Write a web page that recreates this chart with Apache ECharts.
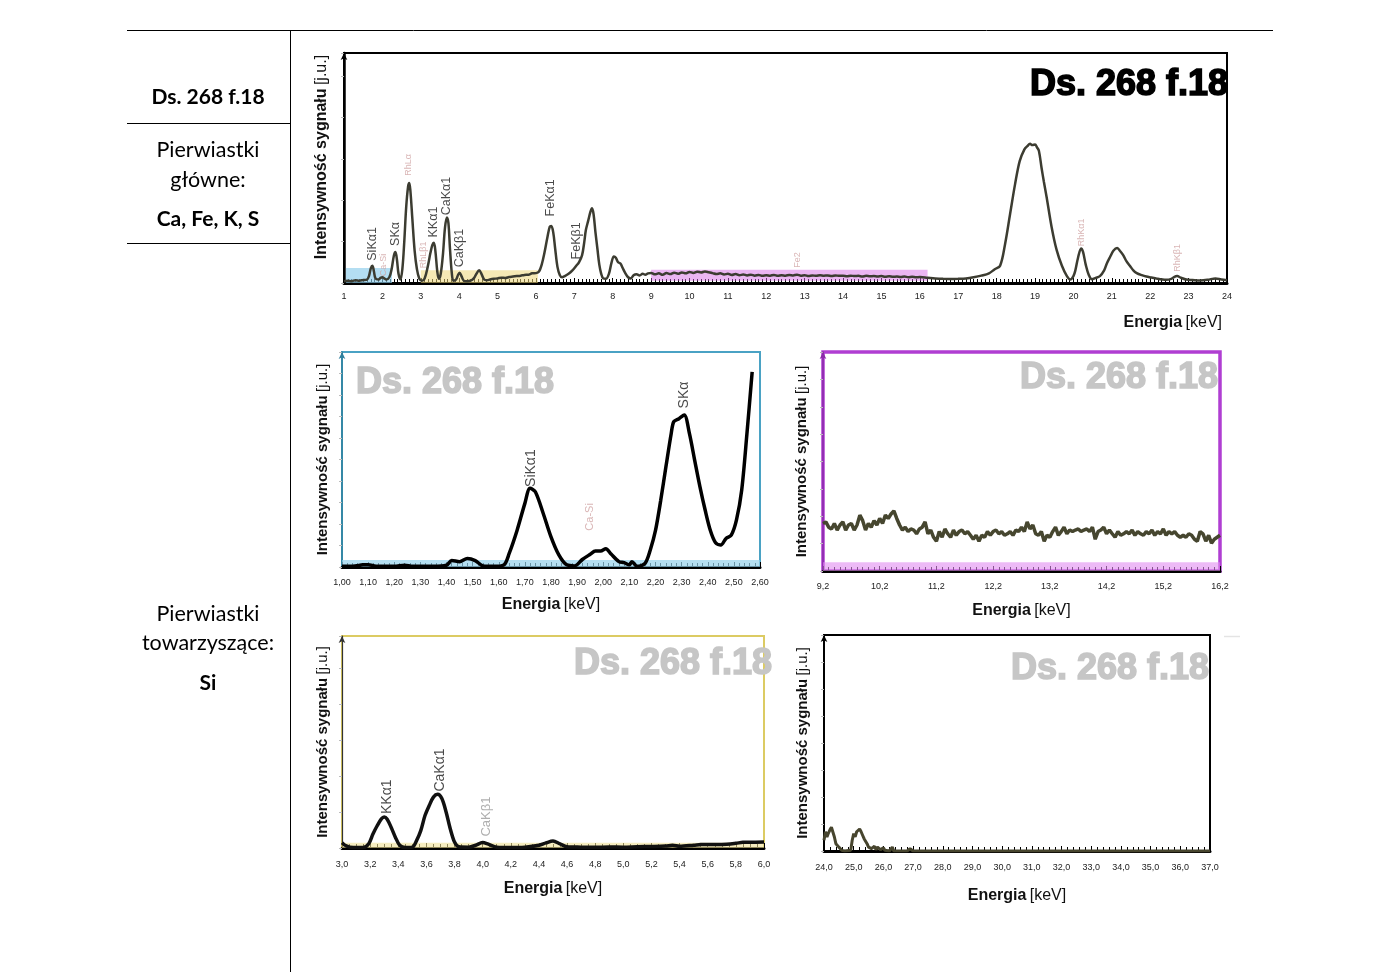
<!DOCTYPE html>
<html><head><meta charset="utf-8">
<script src="https://cdn.jsdelivr.net/npm/echarts@6/dist/echarts.min.js"></script>
<style>html,body{margin:0;padding:0;background:#fff}#c{width:1400px;height:972px}</style>
</head><body><div id="c"></div>
<script>
// ---------- DATA ----------
const sampleName = 'Ds. 268 f.18';

// Overview spectrum 1–24 keV
const topEnergy = [1.0,1.1,1.2,1.3,1.4,1.5,1.6,1.65,1.7,1.74,1.78,1.82,1.9,1.95,2.0,2.05,2.1,2.18,2.24,2.3,2.34,2.38,2.42,2.47,2.52,2.57,2.62,2.67,2.70,2.73,2.78,2.84,2.9,2.96,3.03,3.1,3.18,3.25,3.3,3.34,3.38,3.43,3.47,3.52,3.58,3.63,3.68,3.72,3.76,3.81,3.85,3.92,3.97,4.01,4.06,4.12,4.2,4.3,4.38,4.45,4.52,4.58,4.65,4.72,4.8,4.9,5.0,5.1,5.2,5.3,5.4,5.5,5.6,5.7,5.8,5.9,6.0,6.08,6.15,6.22,6.3,6.36,6.4,6.45,6.5,6.56,6.62,6.68,6.75,6.85,6.95,7.05,7.12,7.2,7.26,7.3,7.36,7.42,7.46,7.5,7.55,7.6,7.65,7.7,7.75,7.82,7.9,7.97,8.03,8.08,8.14,8.2,8.26,8.32,8.4,8.47,8.55,8.62,8.7,8.78,8.85,8.92,9.0,9.1,9.2,9.3,9.4,9.5,9.6,9.7,9.8,9.9,10.0,10.1,10.2,10.3,10.4,10.5,10.6,10.7,10.8,10.9,11.0,11.1,11.2,11.3,11.4,11.5,11.6,11.7,11.8,11.9,12.0,12.1,12.2,12.3,12.4,12.5,12.6,12.7,12.8,12.9,13.0,13.1,13.2,13.3,13.4,13.5,13.6,13.7,13.8,13.9,14.0,14.1,14.2,14.3,14.4,14.5,14.6,14.7,14.8,14.9,15.0,15.1,15.2,15.3,15.4,15.5,15.6,15.7,15.8,15.9,16.0,16.2,16.4,16.6,16.8,17.0,17.2,17.4,17.6,17.8,17.95,18.09,18.22,18.35,18.48,18.6,18.72,18.8,18.87,18.93,19.0,19.05,19.1,19.17,19.23,19.3,19.43,19.56,19.7,19.83,19.92,20.0,20.05,20.12,20.2,20.25,20.32,20.4,20.48,20.58,20.69,20.8,20.87,20.96,21.04,21.14,21.22,21.3,21.38,21.47,21.56,21.65,21.78,21.9,22.03,22.16,22.3,22.42,22.55,22.62,22.7,22.8,22.94,23.1,23.3,23.5,23.7,23.85,24.0];
const topIntensity = [0.8,1.0,0.8,1.2,1.0,1.3,1.5,3,6.5,7.5,5,2,1.5,2.2,2.5,2,1.5,2.5,6,12,13.5,10,4,1.5,6,18,33,42,43.5,40,28,14,6,2,1,2,7,13,16.5,17.5,14,5,1.8,4,13,24,28.5,26,15,4,1,1.5,3.5,4.5,3,1,0.8,1,2,4,5.5,4,1.5,1.2,1.5,1.8,2,2.3,2.2,2.6,2.8,3,3.2,3.5,3.6,4.2,4.3,5,8,13,20,24.5,24.8,22,15,7,3.5,2.5,3,4,5.5,7.5,9,12,18,23,27,31,32.5,30,22,15,8,4,2,1.8,4,9,11.5,11,9,8.5,6.5,4.5,2.5,2,3.5,3.8,3.3,4,3.6,4.2,4.4,3.8,4.2,3.6,4.3,3.9,4.5,4,4.6,4.2,4.8,4.4,4.9,4.6,5,4.7,4.3,3.9,4.2,3.7,4,3.5,3.9,3.4,3.7,3.3,3.6,3.2,3.5,3.1,3.4,3.2,3.5,3.1,3.4,3.2,3.5,3.3,3.6,3.2,3.4,3,3.3,3.1,3.4,3.2,3.3,3,3.3,3.1,3.2,2.9,3.2,3,3.1,2.8,3.1,2.9,3,2.8,3,2.7,2.9,2.7,2.8,2.6,2.8,2.5,2.7,2.5,2.6,2.3,2.0,1.8,1.7,1.8,2.0,2.5,3.2,4.2,6,7.5,17,30,43,53,58,59.5,60.5,60,60.2,59,57.5,50,44,37.5,24.5,14.5,7.5,3,1.5,3,5.5,11,15,13.5,8,3.5,1.6,2.2,3,5.5,8.5,11.5,14,15.2,13.8,12,9.5,7.5,5.5,4.3,3.4,2.8,2.4,2,1.6,1.4,1.8,2.6,3,2.3,1.5,1.3,1.1,1.4,2,1.5,1.2];
const topLabelNames = ['SiKα1','Ca-Si','SKα','RhLα','RhLβ1','KKα1','CaKα1','CaKβ1','FeKα1','FeKβ1','Fe2','RhKα1','RhKβ1'];
const topLabelE     = [1.755,2.02,2.33,2.69,3.06,3.32,3.68,4.02,6.39,7.07,12.8,20.2,22.7];
const topLabelY     = [17,7.8,21.3,51.3,12.2,26.5,37.8,15.2,37,18.3,10,22,10.9];
const topLabelTone  = ['k','p','k','p','p','k','k','k','k','k','p','p','p'];

// Zoom 1.00–2.60 keV
const midLeftEnergy = [1.00,1.04,1.08,1.10,1.13,1.20,1.24,1.27,1.35,1.40,1.42,1.45,1.48,1.51,1.54,1.58,1.62,1.64,1.67,1.70,1.72,1.74,1.77,1.80,1.83,1.86,1.89,1.92,1.95,1.97,1.99,2.01,2.03,2.06,2.08,2.10,2.11,2.13,2.16,2.18,2.20,2.22,2.24,2.26,2.27,2.29,2.31,2.33,2.35,2.37,2.39,2.41,2.43,2.45,2.47,2.49,2.51,2.53,2.55,2.57];
const midLeftIntensity = [0.3,0.3,1.0,1.1,0.4,0.3,0.8,0.3,0.3,0.8,3,2.5,4,3,0.5,0.3,1,6.3,17,29.6,36.6,35,25,14,5.6,1,0.5,3.5,5.9,7.4,7.4,8.5,6,2.5,2,1,2.5,0.3,1.7,7.9,17,31,46.7,62,67.6,69,70.7,62,49.6,37.4,26.5,17,11.3,10.2,13.3,14.8,21.9,35.8,62,90.8];
const midLeftLabelNames = ['SiKα1','Ca-Si','SKα'];
const midLeftLabelE = [1.723,1.95,2.31];
const midLeftLabelY = [46,23.3,80];
const midLeftLabelTone = ['k','p','k'];

// Zoom 9.2–16.2 keV
const midRightEnergy = [9.2,9.25,9.3,9.35,9.4,9.45,9.5,9.55,9.6,9.65,9.7,9.75,9.8,9.85,9.9,9.95,10.0,10.05,10.1,10.15,10.2,10.25,10.3,10.35,10.4,10.45,10.5,10.55,10.6,10.65,10.7,10.75,10.8,10.85,10.9,10.95,11.0,11.05,11.1,11.15,11.2,11.25,11.3,11.35,11.4,11.45,11.5,11.55,11.6,11.65,11.7,11.75,11.8,11.85,11.9,11.95,12.0,12.05,12.1,12.15,12.2,12.25,12.3,12.35,12.4,12.45,12.5,12.55,12.6,12.65,12.7,12.75,12.8,12.85,12.9,12.95,13.0,13.05,13.1,13.15,13.2,13.25,13.3,13.35,13.4,13.45,13.5,13.55,13.6,13.65,13.7,13.75,13.8,13.85,13.9,13.95,14.0,14.05,14.1,14.15,14.2,14.25,14.3,14.35,14.4,14.45,14.5,14.55,14.6,14.65,14.7,14.75,14.8,14.85,14.9,14.95,15.0,15.05,15.1,15.15,15.2,15.25,15.3,15.35,15.4,15.45,15.5,15.55,15.6,15.65,15.7,15.75,15.8,15.85,15.9,15.95,16.0,16.05,16.1,16.15,16.2];
const midRightIntensity = [21.7,22.4,20,19.2,21.7,18.7,21,22.4,18.7,21,21.7,18.7,21,25.5,23,18.7,21.7,20,23,21,24,21.7,25.5,24,26,27.4,24,21,18.7,20,18,19.2,18.7,17,19.2,20,22.4,17,18.7,15.4,13.6,18,15.4,19.2,17,15.4,18.7,16.3,18,18.7,17,18,16.3,14.5,16.3,13.6,16.3,15.4,18,16.3,18,18.7,17,18,16.3,17,18,16.3,18.7,18,20,18,22.4,19.2,21,17,16.3,18,13.6,16.3,15.4,18,20,16.3,18,20,17,18.7,18,18.7,19.2,18,18.7,19.2,18,20,14.5,18,18.7,20,17,18.7,17,15.4,18,16.3,17,18,17,18.7,16.3,18,17,16.3,18,17,18.7,16.3,18,17,19.2,16.3,18,17,18,16.3,15.4,16.3,15.4,17,16.3,14.5,13.6,18,17,13.6,16.3,12.7,14.5,15.4,16.3];

// Zoom 3.0–6.0 keV
const botLeftEnergy = [3.00,3.03,3.08,3.15,3.19,3.22,3.25,3.28,3.30,3.32,3.35,3.38,3.41,3.45,3.50,3.53,3.56,3.59,3.62,3.65,3.68,3.71,3.74,3.77,3.80,3.83,3.90,3.95,4.00,4.04,4.10,4.20,4.30,4.40,4.45,4.50,4.55,4.60,4.70,4.80,4.90,5.00,5.10,5.20,5.30,5.35,5.40,5.50,5.55,5.60,5.70,5.80,5.85,5.90,6.00];
const botLeftIntensity = [2.5,1.0,0.2,0.2,2,6.6,10.5,13.7,14.6,13.7,9.7,5,1.3,0.2,0.4,3.5,8.2,15.3,20,24,25.3,23.3,17,9,2.8,0.6,0.4,1.3,2.6,1.8,0.4,0.2,0.4,1.3,2.4,3.3,1.9,0.6,0.4,0.3,0.5,0.4,0.6,0.7,0.9,1.3,0.8,1.3,1.6,1.7,1.7,2.2,2.7,2.7,2.8];
const botLeftLabelNames = ['KKα1','CaKα1','CaKβ1'];
const botLeftLabelE = [3.32,3.70,4.03];
const botLeftLabelY = [24.2,36.8,14.8];
const botLeftLabelTone = ['k','k','g'];

// Zoom 24–37 keV
const botRightEnergy = [24.0,24.05,24.1,24.15,24.2,24.25,24.3,24.35,24.4,24.5,24.6,24.7,24.9,24.95,25.0,25.05,25.1,25.15,25.2,25.25,25.3,25.35,25.4,25.45,25.5,25.55,25.6,25.7,25.75,25.8,25.85,25.9,26.0,26.05,26.1,26.2,26.3,26.35,26.5,26.8,26.9,27.0,30.0,37.0];
const botRightIntensity = [5,8.9,6.5,8.3,9.8,11,10.6,6.5,3.4,1.8,0.3,0,0.3,5,8.1,6.5,8.9,9.8,10.2,8.9,7.3,5.7,5,3.4,1.8,2.6,1.1,2.2,0.6,1.8,2.6,0.6,1.5,0.3,1.1,0,1.8,0,0,0,1.1,0,0,0];

// ---------- BUILD ----------
const FONT = 'Liberation Sans, Arial, sans-serif';
const zip = (a,b) => a.map((v,i)=>[v,b[i]]);
const toneColor = {k:'#1a1a1a', p:'#cfa3a3', g:'#9a9a9a'};
function labelData(names,E,Y,tone,bigSize,smallSize){
  return names.map((n,i)=>({value:[E[i],Y[i],n],
    label:{color:toneColor[tone[i]], fontSize: tone[i]==='k'?bigSize:smallSize}}));
}
function yNameCfg(size,pad){
  return {
    name:'{b|Intensywność sygnału} {n|[j.u.]}', nameLocation:'middle', nameRotate:90,
    nameTextStyle:{padding:pad,rich:{b:{fontFamily:FONT,fontWeight:'bold',fontSize:size,color:'#111'},n:{fontFamily:FONT,fontSize:size,color:'#111'}}}
  };
}
const xNameRich = {b:{fontFamily:FONT,fontWeight:'bold',fontSize:16,color:'#111'},n:{fontFamily:FONT,fontSize:16,color:'#111'}};

function xAxis(gi,min,max,interval,minor,fmt,margin,extra){
  return Object.assign({
    type:'value', gridIndex:gi, min:min, max:max, interval:interval,
    axisLine:{show:true,onZero:false,lineStyle:{color:'#000',width:3}},
    axisTick:{show:true,inside:true,length:5,lineStyle:{color:'#000',width:1}},
    minorTick:{show:true,splitNumber:minor,length:4,lineStyle:{color:'#000',width:1}},
    axisLabel:{fontSize:9,color:'#222',fontFamily:FONT,margin:margin,formatter:fmt,showMinLabel:true,showMaxLabel:true},
    splitLine:{show:false}
  },extra||{});
}
function yAxis(gi,interval,color,gap,w,size,pad){
  return Object.assign({
    type:'value', gridIndex:gi, min:0, max:100, interval:interval,
    axisLine:{show:true,onZero:false,symbol:['none','arrow'],symbolSize:[5,7],lineStyle:{color:color,width:w}},
    axisTick:{show:true,length:3,lineStyle:{color:'#bbb'}},
    axisLabel:{show:false}, splitLine:{show:false}, nameGap:gap
  },yNameCfg(size,pad));
}
function labelSeries(xi,data){
  return {type:'scatter',xAxisIndex:xi,yAxisIndex:xi,symbolSize:1,silent:true,z:5,
    itemStyle:{color:'rgba(0,0,0,0)'},
    label:{show:true,position:'inside',rotate:90,fontFamily:FONT,formatter:p=>p.data.value[2]},
    data:data};
}
function heavyText(x,y,align,fill,size){
  return {type:'text',z:10,style:{text:sampleName,x:x,y:y,textAlign:align,textVerticalAlign:'middle',
    font:'bold '+size+'px Liberation Sans, Arial, sans-serif',fill:fill,stroke:fill,lineWidth:1.6}};
}
const offR = 9.2;
const option = {
  animation:false,
  grid:[
    {left:344,top:53,width:883,height:230,show:true,borderColor:'#000',borderWidth:2},
    {left:342,top:352,width:418,height:215,show:true,borderColor:'#4aa2c4',borderWidth:2},
    {left:823,top:352,width:397,height:219,show:true,borderColor:'#b03ed2',borderWidth:3.5},
    {left:342,top:636,width:422,height:212,show:true,borderColor:'#dccb63',borderWidth:2},
    {left:824,top:635,width:386,height:216,show:true,borderColor:'#000',borderWidth:2}
  ],
  xAxis:[
    xAxis(0,1,24,1,10,v=>String(Math.round(v)),9,{name:'{b|Energia} {n|[keV]}',nameLocation:'end',nameGap:-5,
      nameTextStyle:{align:'right',verticalAlign:'top',padding:[32,0,0,0],rich:xNameRich}}),
    xAxis(1,1,2.6,0.1,5,v=>v.toFixed(2).replace('.',','),11,{name:'{b|Energia} {n|[keV]}',nameLocation:'middle',nameGap:30,nameTextStyle:{rich:xNameRich}}),
    xAxis(2,0,7,1,10,v=>(v+offR).toFixed(1).replace('.',','),11,{name:'{b|Energia} {n|[keV]}',nameLocation:'middle',nameGap:32,nameTextStyle:{rich:xNameRich}}),
    xAxis(3,3,6,0.2,4,v=>v.toFixed(1).replace('.',','),12,{name:'{b|Energia} {n|[keV]}',nameLocation:'middle',nameGap:33,nameTextStyle:{rich:xNameRich}}),
    xAxis(4,24,37,1,5,v=>v.toFixed(1).replace('.',','),12,{name:'{b|Energia} {n|[keV]}',nameLocation:'middle',nameGap:37,nameTextStyle:{rich:xNameRich}})
  ],
  yAxis:[
    yAxis(0,18,'#000',14,2.5,16,[0,0,0,22]),
    yAxis(1,10,'#2f7f9c',12,1.5,15,0),
    yAxis(2,12.5,'#8a2aa8',14,1.5,15,0),
    yAxis(3,17,'#333',12,1.2,15,0),
    yAxis(4,12.5,'#000',14,2,15,0)
  ],
  series:[
    {type:'line',xAxisIndex:0,yAxisIndex:0,data:zip(topEnergy,topIntensity),showSymbol:false,smooth:0.35,z:3,
      lineStyle:{color:'#3c3c31',width:2.5},
      markArea:{silent:true,data:[
        [{xAxis:1.05,yAxis:0,itemStyle:{color:'rgba(140,205,235,0.65)'}},{xAxis:2.25,yAxis:6.5}],
        [{xAxis:3.0,yAxis:0,itemStyle:{color:'rgba(238,215,120,0.55)'}},{xAxis:6.05,yAxis:5.5}],
        [{xAxis:9.0,yAxis:1,itemStyle:{color:'rgba(215,110,230,0.5)'}},{xAxis:16.2,yAxis:5.8}]
      ]}},
    labelSeries(0,labelData(topLabelNames,topLabelE,topLabelY,topLabelTone,12.5,9)),
    {type:'line',xAxisIndex:1,yAxisIndex:1,data:zip(midLeftEnergy,midLeftIntensity),showSymbol:false,smooth:0.3,z:3,
      lineStyle:{color:'#000',width:3.5},
      markArea:{silent:true,data:[[{xAxis:1,yAxis:0,itemStyle:{color:'rgba(150,210,235,0.7)'}},{xAxis:2.6,yAxis:3.3}]]}},
    labelSeries(1,labelData(midLeftLabelNames,midLeftLabelE,midLeftLabelY,midLeftLabelTone,14,11)),
    {type:'line',xAxisIndex:2,yAxisIndex:2,data:midRightEnergy.map((e,i)=>[e-offR,midRightIntensity[i]]),showSymbol:false,z:3,
      lineStyle:{color:'#46462f',width:3.5},
      markArea:{silent:true,data:[[{xAxis:0,yAxis:0,itemStyle:{color:'rgba(225,140,240,0.6)'}},{xAxis:7,yAxis:4}]]}},
    {type:'line',xAxisIndex:3,yAxisIndex:3,data:zip(botLeftEnergy,botLeftIntensity),showSymbol:false,smooth:0.3,z:3,
      lineStyle:{color:'#111',width:3.5},
      markArea:{silent:true,data:[[{xAxis:3,yAxis:0,itemStyle:{color:'rgba(240,225,150,0.6)'}},{xAxis:6,yAxis:2.5}]]}},
    labelSeries(3,labelData(botLeftLabelNames,botLeftLabelE,botLeftLabelY,botLeftLabelTone,14,13)),
    {type:'line',xAxisIndex:4,yAxisIndex:4,data:zip(botRightEnergy,botRightIntensity),showSymbol:false,z:3,
      lineStyle:{color:'#47452e',width:3}}
  ],
  graphic:[
    // table
    {type:'line',shape:{x1:127,y1:30.5,x2:1273,y2:30.5},style:{stroke:'#000',lineWidth:1}},
    {type:'line',shape:{x1:290.5,y1:30,x2:290.5,y2:972},style:{stroke:'#000',lineWidth:1}},
    {type:'line',shape:{x1:127,y1:123.5,x2:290,y2:123.5},style:{stroke:'#000',lineWidth:1}},
    {type:'line',shape:{x1:127,y1:243.5,x2:290,y2:243.5},style:{stroke:'#000',lineWidth:1}},
    {type:'text',style:{text:sampleName,x:208,y:97,textAlign:'center',textVerticalAlign:'middle',font:'bold 21px Lato, sans-serif',fill:'#000'}},
    {type:'text',style:{text:'Pierwiastki',x:208,y:150,textAlign:'center',textVerticalAlign:'middle',font:'21.5px Lato, sans-serif',fill:'#000'}},
    {type:'text',style:{text:'główne:',x:208,y:180,textAlign:'center',textVerticalAlign:'middle',font:'21.5px Lato, sans-serif',fill:'#000'}},
    {type:'text',style:{text:'Ca, Fe, K, S',x:208,y:219,textAlign:'center',textVerticalAlign:'middle',font:'bold 21px Lato, sans-serif',fill:'#000'}},
    {type:'text',style:{text:'Pierwiastki',x:208,y:614,textAlign:'center',textVerticalAlign:'middle',font:'21.5px Lato, sans-serif',fill:'#000'}},
    {type:'text',style:{text:'towarzyszące:',x:208,y:643,textAlign:'center',textVerticalAlign:'middle',font:'21.5px Lato, sans-serif',fill:'#000'}},
    {type:'text',style:{text:'Si',x:208,y:683,textAlign:'center',textVerticalAlign:'middle',font:'bold 21px Lato, sans-serif',fill:'#000'}},
    // titles / watermarks
    heavyText(1228,85,'right','#000',36),
    heavyText(356,383,'left','#c6c6c6',36),
    heavyText(1218,378,'right','#c6c6c6',36),
    heavyText(772,664,'right','#c6c6c6',36),
    heavyText(1209,669,'right','#c6c6c6',36),
    {type:'line',shape:{x1:1224,y1:636.5,x2:1240,y2:636.5},style:{stroke:'#e4e4e4',lineWidth:1.5}}
  ]
};
echarts.init(document.getElementById('c'),null,{renderer:'canvas'}).setOption(option);
</script></body></html>
